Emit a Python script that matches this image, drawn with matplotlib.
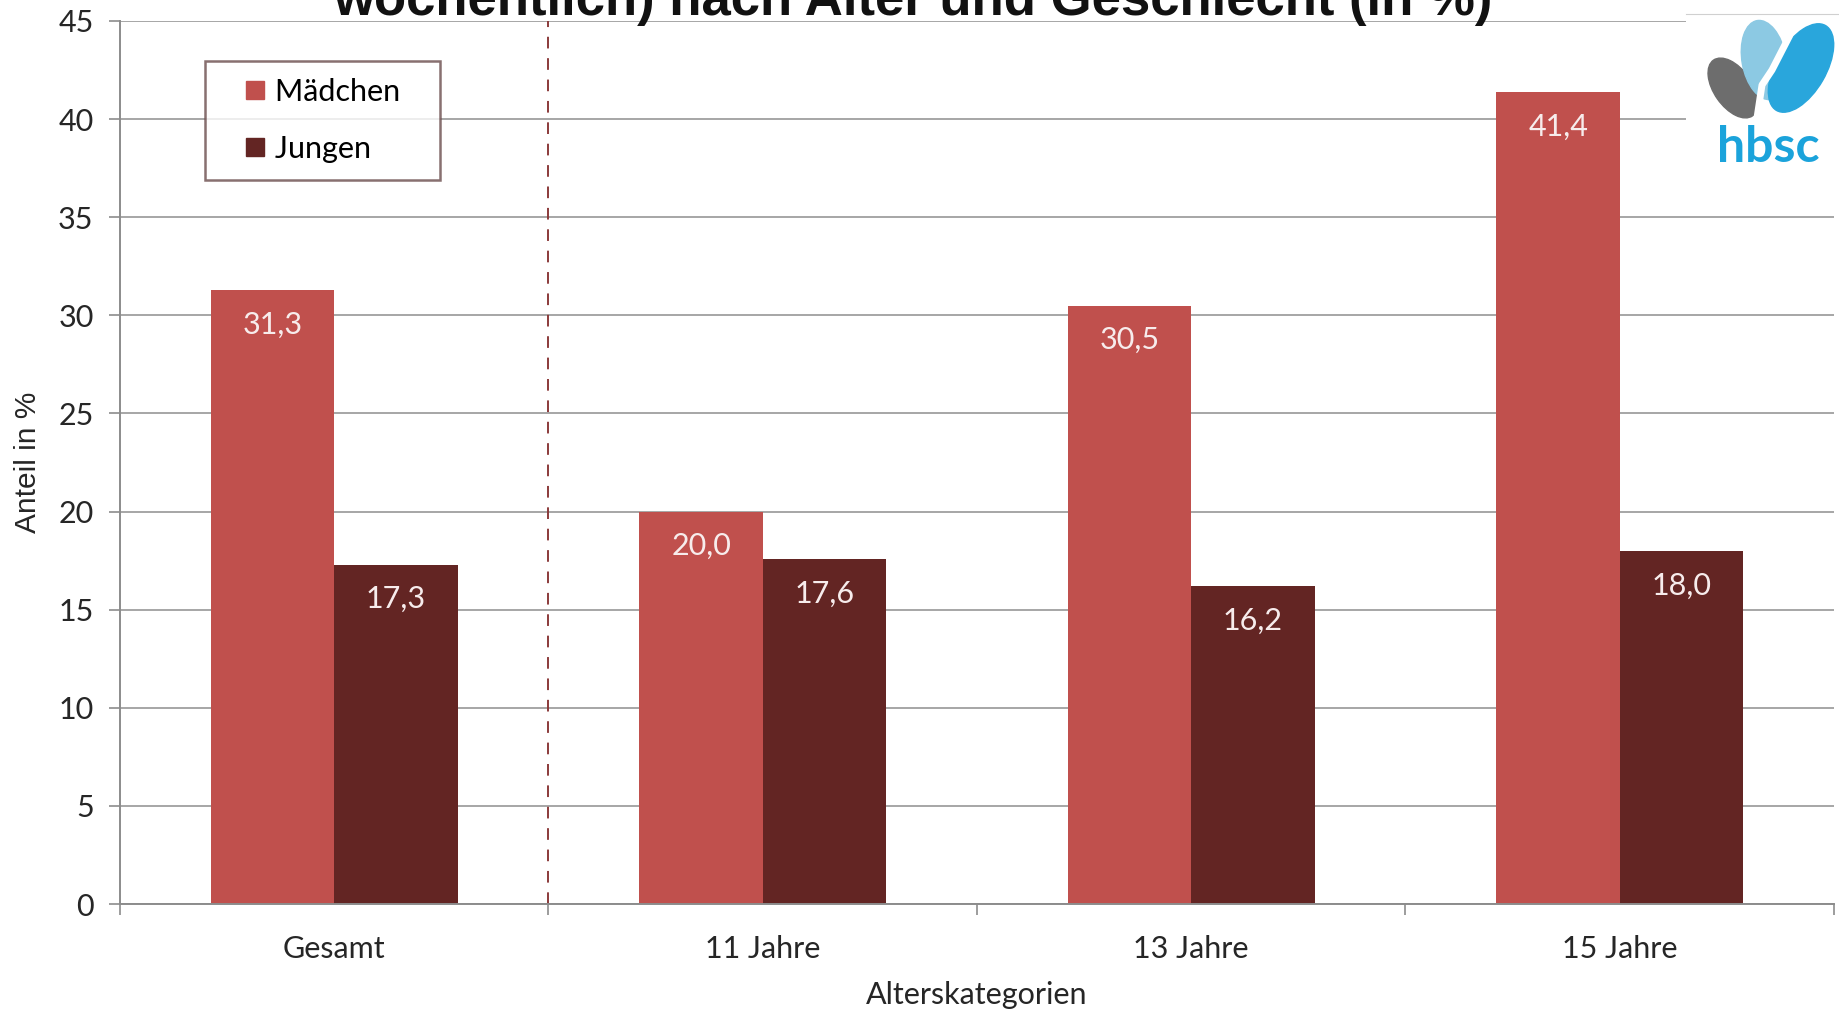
import numpy as np
import matplotlib
matplotlib.use('Agg')
import matplotlib.pyplot as plt
from matplotlib.lines import Line2D
from matplotlib.patches import Ellipse

# data
categories = ['Gesamt', '11 Jahre', '13 Jahre', '15 Jahre']
maedchen = [31.3, 20.0, 30.5, 41.4]
jungen = [17.3, 17.6, 16.2, 18.0]
series_names = ['Mädchen', 'Jungen']
yticks = [0, 5, 10, 15, 20, 25, 30, 35, 40, 45]

col_m = '#C0504D'
col_j = '#632523'
calibri = ['Lato', 'DejaVu Sans']

fig = plt.figure(figsize=(18.4, 10.11), dpi=100)
ax = fig.add_axes([120 / 1840, 1 - 904 / 1011, 1714 / 1840, 883 / 1011])

x = np.arange(len(categories))
w = 0.2877
bm = ax.bar(x - w / 2, maedchen, w, color=col_m, zorder=3)
bj = ax.bar(x + w / 2, jungen, w, color=col_j, zorder=3)

# value labels inside the bars, German decimal comma
for bars, vals in [(bm, maedchen), (bj, jungen)]:
    for b, v in zip(bars, vals):
        ax.annotate(f'{v:.1f}'.replace('.', ','),
                    (b.get_x() + b.get_width() / 2, b.get_height()),
                    xytext=(0, -25), textcoords='offset points',
                    ha='center', va='center', color='#F7ECEC',
                    fontsize=22, family=calibri, zorder=4)

ax.set_xlim(-0.5, len(categories) - 0.5)
ax.set_ylim(0, 45)
ax.set_yticks(yticks)
ax.set_yticklabels([str(t) for t in yticks], family=calibri,
                   fontsize=22, color='#262626')
ax.tick_params(axis='y', length=8, width=1.2, color='#8c8c8c', pad=11)

ax.set_xticks(x)
ax.set_xticklabels(categories, family=calibri, fontsize=22, color='#262626')
ax.tick_params(axis='x', which='major', length=0, pad=22.5)
ax.set_xticks(np.arange(len(categories) + 1) - 0.5, minor=True)
ax.tick_params(axis='x', which='minor', length=8, width=1.2, color='#8c8c8c')

ax.grid(axis='y', color='#a6a6a6', linewidth=1.4, zorder=0)
for s in ['top', 'right']:
    ax.spines[s].set_visible(False)
for s in ['left', 'bottom']:
    ax.spines[s].set_color('#8c8c8c')
    ax.spines[s].set_linewidth(1.4)
    ax.spines[s].set_zorder(5)

# dashed separator between total and age groups
ax.axvline(0.5, color='#8B3A3A', linewidth=1.4, dashes=(6, 5), zorder=2)

handles = [Line2D([], [], marker='s', linestyle='none', markersize=13.5,
                  markerfacecolor=c, markeredgecolor=c) for c in [col_m, col_j]]
leg = ax.legend(handles, [n + '   ' for n in series_names],
                loc='upper left', bbox_to_anchor=(0.0496, 0.955),
                prop={'family': calibri, 'size': 22}, frameon=True,
                fancybox=False, borderpad=0.55, labelspacing=0.97,
                handlelength=2.2, handletextpad=-0.45, borderaxespad=0)
leg.get_frame().set_edgecolor('#6b4c4c')
leg.get_frame().set_linewidth(1.8)
leg.set_zorder(6)

fig.text(28 / 1840, 1 - 462 / 1011, 'Anteil in %', rotation=90, ha='center', va='center',
         family='Liberation Sans', fontsize=21.5, color='#262626')
fig.text(977 / 1840, 1 - 995 / 1011, 'Alterskategorien', ha='center', va='center',
         family=calibri, fontsize=22, color='#262626')

# title, cut off at the top edge as in the original
fig.text(0.496, 1 - 15 / 1011, 'wöchentlich) nach Alter und Geschlecht (in %)',
         ha='center', va='baseline', family='Liberation Sans', weight='bold',
         fontsize=38, color='#111111')

# hbsc logo, rough sketch
lg = fig.add_axes([1686 / 1840, 1 - 180 / 1011, 154 / 1840, 166 / 1011])
lg.set_xlim(1686, 1840)
lg.set_ylim(180, 14)
lg.set_xticks([])
lg.set_yticks([])
for s in ['left', 'right', 'bottom']:
    lg.spines[s].set_visible(False)
lg.spines['top'].set_color('#d0d0d0')
lg.add_patch(Ellipse((1733, 88), 38, 68, angle=-35, color='#6d6d6d'))
lg.add_patch(Ellipse((1764, 60), 44, 80, angle=-10, color='#8cc9e3'))
lg.add_patch(Ellipse((1801, 68), 50, 98, angle=30, color='#29a6dc'))
lg.plot([1757, 1762, 1772, 1790], [118, 85, 70, 35], color='white', lw=5,
        solid_capstyle='round')
lg.text(1768, 148, 'hbsc', ha='center', va='center', family=calibri,
        weight='bold', fontsize=36, color='#1BA3DB')

fig.savefig('out.png', dpi=100)
